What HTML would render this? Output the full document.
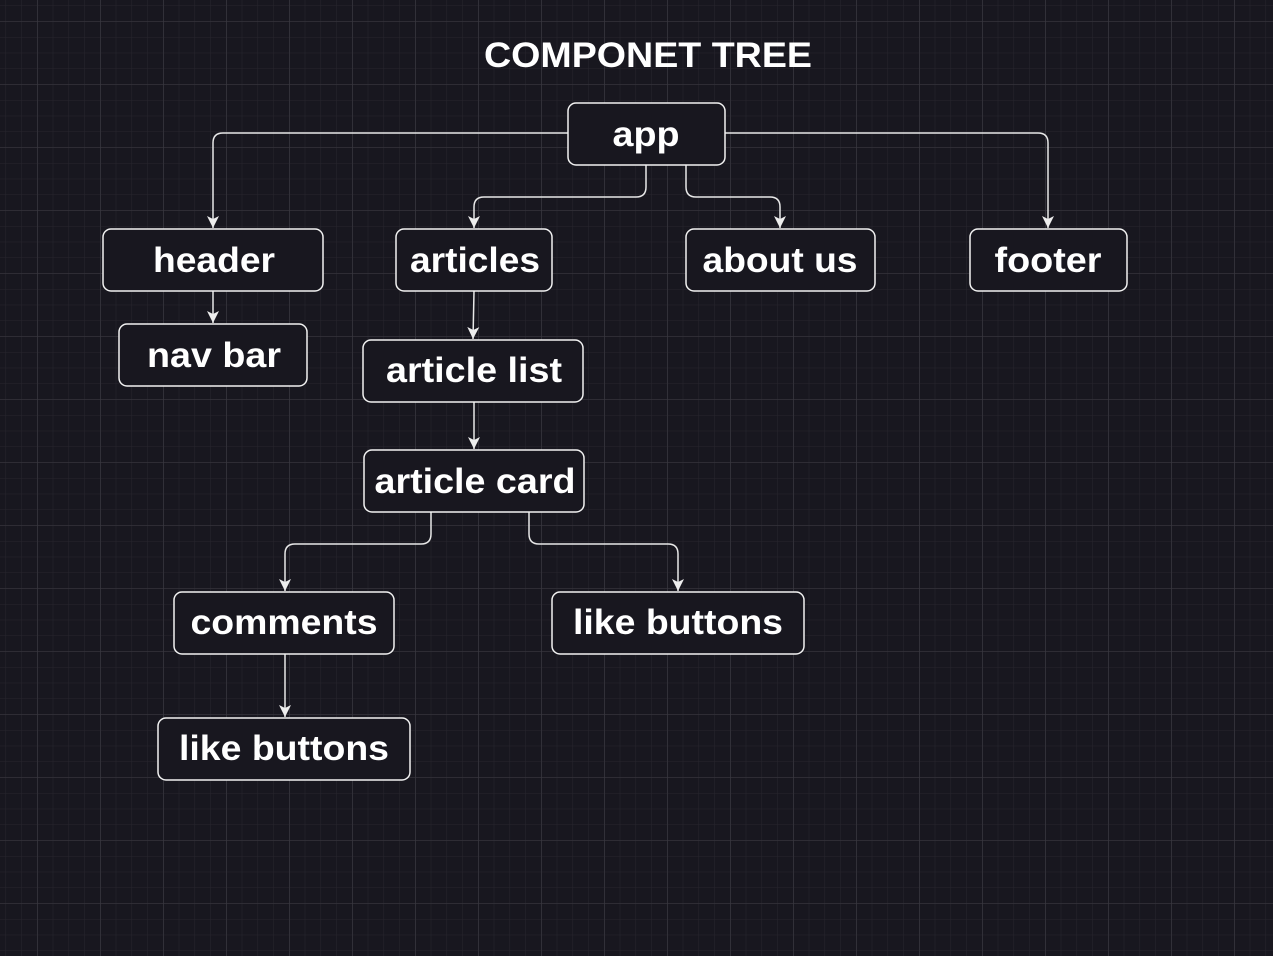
<!DOCTYPE html>
<html><head><style>
html,body{margin:0;padding:0;background:#18171f;}
svg{display:block}
text{font-family:"Liberation Sans",sans-serif;font-weight:bold;fill:#fff;}
</style></head><body>
<svg width="1273" height="956" xmlns="http://www.w3.org/2000/svg">
<defs>
<pattern id="minor" x="5.5" y="5.5" width="15.75" height="15.75" patternUnits="userSpaceOnUse">
<path d="M0 0H15.75M0 0V15.75" stroke="#27262e" stroke-width="1" fill="none"/>
</pattern>
<pattern id="major" x="37.5" y="21.5" width="63" height="63" patternUnits="userSpaceOnUse">
<path d="M0 0H63M0 0V63" stroke="#3b3a42" stroke-width="1" fill="none"/>
</pattern>
<marker id="ar" markerWidth="14" markerHeight="14" refX="12" refY="7" orient="auto" markerUnits="userSpaceOnUse">
<path d="M0 1L12 7L0 13L3 7Z" fill="#eee"/>
</marker>
</defs>
<rect width="1273" height="956" fill="#18171f"/>
<rect width="1273" height="956" fill="url(#minor)"/>
<rect width="1273" height="956" fill="url(#major)"/>

<text x="648" y="67" font-size="35" text-anchor="middle" textLength="328" lengthAdjust="spacingAndGlyphs">COMPONET TREE</text>

<g fill="none" stroke="#e8e8e8" stroke-width="1.5" marker-end="url(#ar)">
<path d="M568 133H223Q213 133 213 143V228"/>
<path d="M725 133H1038Q1048 133 1048 143V228"/>
<path d="M646 165V187Q646 197 636 197H484Q474 197 474 207V228"/>
<path d="M686 165V187Q686 197 696 197H770Q780 197 780 207V228"/>
<path d="M213 291V323"/>
<path d="M474 291L473 339"/>
<path d="M474 402V449"/>
<path d="M431 512V534Q431 544 421 544H295Q285 544 285 554V591"/>
<path d="M529 512V534Q529 544 539 544H668Q678 544 678 554V591"/>
<path d="M285 654V717"/>
</g>

<g fill="#18171f" stroke="#f2f2f2" stroke-width="1.5">
<rect x="568" y="103" width="157" height="62" rx="8"/>
<rect x="103" y="229" width="220" height="62" rx="8"/>
<rect x="396" y="229" width="156" height="62" rx="8"/>
<rect x="686" y="229" width="189" height="62" rx="8"/>
<rect x="970" y="229" width="157" height="62" rx="8"/>
<rect x="119" y="324" width="188" height="62" rx="8"/>
<rect x="363" y="340" width="220" height="62" rx="8"/>
<rect x="364" y="450" width="220" height="62" rx="8"/>
<rect x="174" y="592" width="220" height="62" rx="8"/>
<rect x="552" y="592" width="252" height="62" rx="8"/>
<rect x="158" y="718" width="252" height="62" rx="8"/>
</g>

<g font-size="35" text-anchor="middle" lengthAdjust="spacingAndGlyphs">
<text x="646" y="146" textLength="67" lengthAdjust="spacingAndGlyphs">app</text>
<text x="214" y="272" textLength="122" lengthAdjust="spacingAndGlyphs">header</text>
<text x="475" y="272" textLength="130" lengthAdjust="spacingAndGlyphs">articles</text>
<text x="780" y="272" textLength="155" lengthAdjust="spacingAndGlyphs">about us</text>
<text x="1048" y="272" textLength="107" lengthAdjust="spacingAndGlyphs">footer</text>
<text x="214" y="367" textLength="134" lengthAdjust="spacingAndGlyphs">nav bar</text>
<text x="474" y="382" textLength="176" lengthAdjust="spacingAndGlyphs">article list</text>
<text x="475" y="493" textLength="201" lengthAdjust="spacingAndGlyphs">article card</text>
<text x="284" y="634" textLength="187" lengthAdjust="spacingAndGlyphs">comments</text>
<text x="678" y="634" textLength="210" lengthAdjust="spacingAndGlyphs">like buttons</text>
<text x="284" y="760" textLength="210" lengthAdjust="spacingAndGlyphs">like buttons</text>
</g>
</svg>
</body></html>
